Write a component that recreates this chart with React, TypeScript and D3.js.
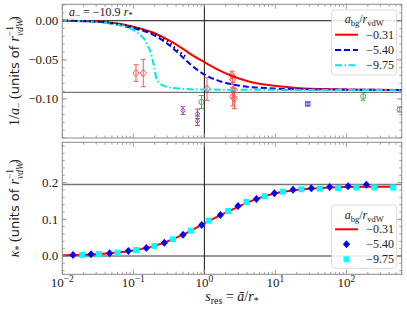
import React from "react";
import * as d3 from "d3";

// ---------- data ----------
// top panel: 1/a_- curves (x = s_res, y = 1/a_-)
const redTopX = [0.01, 0.03, 0.1, 0.2, 0.3, 0.5, 0.7, 1.0, 1.5, 2.5, 4, 7.5, 20, 60, 200, 600];
const redTopY = [0, -0.001, -0.0076, -0.016, -0.024, -0.036, -0.045, -0.053, -0.062, -0.071, -0.077, -0.082, -0.086, -0.0878, -0.0884, -0.0886];
const blueTopX = [0.01, 0.03, 0.1, 0.172, 0.295, 0.455, 0.7, 1.08, 1.5, 2.5, 4.4, 7.57, 12.8, 65, 600];
const blueTopY = [0, -0.0012, -0.0097, -0.016, -0.0288, -0.0436, -0.059, -0.0705, -0.076, -0.0815, -0.0848, -0.086, -0.0873, -0.088, -0.0886];
const cyanTopX = [0.01, 0.03, 0.059, 0.081, 0.099, 0.124, 0.155, 0.182, 0.196, 0.214, 0.265, 0.366, 0.87, 600];
const cyanTopY = [0, -0.0015, -0.005, -0.0076, -0.0118, -0.018, -0.0288, -0.0458, -0.0585, -0.0754, -0.083, -0.086, -0.088, -0.0888];
const blackTopX = [0.01, 0.03, 0.1, 0.17, 0.3, 0.45, 0.55];
const blackTopY = [0, -0.001, -0.008, -0.0145, -0.026, -0.040, -0.046];

// experimental / reference points with error bars
const redPtsX = [0.109, 0.138, 1.09, 2.45, 2.5, 2.55, 2.5, 2.65];
const redPtsY = [-0.0669, -0.0669, -0.0873, -0.0695, -0.0755, -0.0885, -0.097, -0.0995];
const redPtsE = [0.0106, 0.0175, 0.0145, 0.005, 0.006, 0.01, 0.012, 0.013];
const purplePtsX = [0.5, 0.8, 0.8];
const purplePtsY = [-0.115, -0.119, -0.128];
const purplePtsE = [0.005, 0.006, 0.006];
const greenPtsX = [0.91, 172, 563];
const greenPtsY = [-0.104, -0.0967, -0.1136];
const greenPtsE = [0.0083, 0.005, 0.003];
const bluePtsX = [28.5];
const bluePtsY = [-0.1064];
const bluePtsE = [0.002];

const asymTop = -0.0917;

// bottom panel: kappa_*
const redBotX = [0.01, 0.02, 0.05, 0.1, 0.2, 0.5, 1, 2, 5, 10, 20, 50, 100, 200, 500];
const redBotY = [0.002, 0.003, 0.008, 0.015, 0.0275, 0.058, 0.089, 0.118, 0.153, 0.171, 0.180, 0.186, 0.188, 0.189, 0.189];
const blueBotX = [0.01415, 0.0254, 0.0464, 0.0851, 0.1525, 0.2733, 0.501, 0.916, 1.68, 2.98, 5.40, 9.68, 17.7, 32.1, 58.2, 105.6, 191];
const blueBotY = [0.0027, 0.0046, 0.0073, 0.0136, 0.0218, 0.0363, 0.0582, 0.0845, 0.1118, 0.136, 0.1555, 0.1709, 0.1809, 0.1845, 0.1882, 0.19, 0.1945];
const cyanBotX = [0.0191, 0.0329, 0.0601, 0.110, 0.198, 0.362, 0.650, 1.15, 2.16, 3.90, 7.07, 12.8, 23.2, 42.1, 76.4, 138, 248, 455];
const cyanBotY = [0.0027, 0.0055, 0.009, 0.016, 0.0273, 0.0455, 0.069, 0.0963, 0.1227, 0.1473, 0.1628, 0.1755, 0.1818, 0.1836, 0.1855, 0.1866, 0.1866, 0.1866];
const asymBot = 0.195;

const legendLabels = ["\u22120.31", "\u22125.40", "\u22129.75"];
const topYTicks = [0, -0.05, -0.1];
const botYTicks = [0, 0.1, 0.2];
const xTickExps = [-2, -1, 0, 1, 2];

// ---------- layout ----------
const W = 407, H = 313;
const L = 62.3, R = 401.7;
const T1 = 4.3, B1 = 138;
const T2 = 142.3, B2 = 274.3;
const SERIF = "'Liberation Serif', 'DejaVu Serif', serif";
const SANS = "'DejaVu Sans', 'Liberation Sans', sans-serif";
const SPINE = "#8a8a8a";

const x = d3.scaleLog().domain([0.01, 600]).range([L, R]);
const yTop = d3.scaleLinear().domain([-0.15, 0.021]).range([B1, T1]);
const yBot = d3.scaleLinear().domain([-0.05, 0.31]).range([B2, T2]);

function zip(xs: number[], ys: number[]) {
  return xs.map((v, i) => [v, ys[i]] as [number, number]);
}

function Frame({ top, bottom, y, yMajor, yMinorStep }: any) {
  const majorX = xTickExps.map((e) => Math.pow(10, e));
  const minorX: number[] = [];
  for (let e = -2; e <= 2; e++) for (let k = 2; k <= 9; k++) {
    const v = k * Math.pow(10, e);
    if (v <= 600) minorX.push(v);
  }
  const [d0, d1] = y.domain();
  const minorY: number[] = [];
  for (let v = Math.ceil(d0 / yMinorStep) * yMinorStep; v <= d1 + 1e-9; v += yMinorStep) minorY.push(v);
  const ticks: any[] = [];
  majorX.forEach((v, i) => {
    const px = x(v);
    ticks.push(<line key={"xt" + i} x1={px} x2={px} y1={top} y2={top + 4.5} />);
    ticks.push(<line key={"xb" + i} x1={px} x2={px} y1={bottom} y2={bottom - 4.5} />);
  });
  minorX.forEach((v, i) => {
    const px = x(v);
    ticks.push(<line key={"mxt" + i} x1={px} x2={px} y1={top} y2={top + 2.5} />);
    ticks.push(<line key={"mxb" + i} x1={px} x2={px} y1={bottom} y2={bottom - 2.5} />);
  });
  yMajor.forEach((v: number, i: number) => {
    const py = y(v);
    ticks.push(<line key={"yl" + i} x1={L} x2={L + 4.5} y1={py} y2={py} />);
    ticks.push(<line key={"yr" + i} x1={R} x2={R - 4.5} y1={py} y2={py} />);
  });
  minorY.forEach((v, i) => {
    const py = y(v);
    ticks.push(<line key={"myl" + i} x1={L} x2={L + 2.5} y1={py} y2={py} />);
    ticks.push(<line key={"myr" + i} x1={R} x2={R - 2.5} y1={py} y2={py} />);
  });
  return (
    <g>
      <g stroke={SPINE} strokeWidth={0.8}>{ticks}</g>
      <rect x={L} y={top} width={R - L} height={bottom - top} fill="none" stroke={SPINE} strokeWidth={1} />
    </g>
  );
}

function ErrPts({ xs, ys, es, color, shape, size }: any) {
  return (
    <g stroke={color} fill="none" strokeWidth={1} opacity={0.75}>
      {xs.map((v: number, i: number) => {
        const px = x(v), py = yTop(ys[i]);
        const y1 = yTop(ys[i] + es[i]), y2 = yTop(ys[i] - es[i]);
        let m;
        if (shape === "diamond") m = <path d={`M${px},${py - size}L${px + size * 0.8},${py}L${px},${py + size}L${px - size * 0.8},${py}Z`} />;
        else if (shape === "circle") m = <circle cx={px} cy={py} r={size} />;
        else m = <rect x={px - size} y={py - size} width={2 * size} height={2 * size} fill={color} fillOpacity={0.4} />;
        return (
          <g key={i}>
            <line x1={px} x2={px} y1={y1} y2={y2} />
            <line x1={px - 2.5} x2={px + 2.5} y1={y1} y2={y1} />
            <line x1={px - 2.5} x2={px + 2.5} y1={y2} y2={y2} />
            {m}
          </g>
        );
      })}
    </g>
  );
}

function LegendTitle({ cx, cy }: any) {
  return (
    <text x={cx} y={cy} textAnchor="middle" fontFamily={SERIF} fontSize={12} fill="#222">
      <tspan fontStyle="italic">a</tspan>
      <tspan fontSize={8.5} dy={2.5}>bg</tspan>
      <tspan dy={-2.5}>/</tspan>
      <tspan fontStyle="italic">r</tspan>
      <tspan fontSize={8.5} dy={2.5}>vdW</tspan>
    </text>
  );
}

export default function App() {
  const lineTop = d3.line<[number, number]>().x((d) => x(d[0])).y((d) => yTop(d[1])).curve(d3.curveMonotoneX);
  const lineBot = d3.line<[number, number]>().x((d) => x(d[0])).y((d) => yBot(d[1])).curve(d3.curveMonotoneX);
  const x1 = x(1);

  const lgx = 331.7, lgw = 65;
  return (
    <svg width={W} height={H} style={{ position: "absolute", left: 0, top: 0, background: "#fff" }}>
      {/* ---------------- top panel ---------------- */}
      <defs>
        <clipPath id="c1"><rect x={L} y={T1} width={R - L} height={B1 - T1} /></clipPath>
        <clipPath id="c2"><rect x={L} y={T2} width={R - L} height={B2 - T2} /></clipPath>
      </defs>
      <g clipPath="url(#c1)">
        <line x1={L} x2={R} y1={yTop(0)} y2={yTop(0)} stroke="#111" strokeWidth={1} />
        <line x1={L} x2={R} y1={yTop(asymTop)} y2={yTop(asymTop)} stroke="#777" strokeWidth={1.3} />
        <line x1={x1} x2={x1} y1={T1} y2={B1} stroke="#111" strokeWidth={1} />
        <ErrPts xs={redPtsX} ys={redPtsY} es={redPtsE} color="#ff2020" shape="diamond" size={3.8} />
        <ErrPts xs={purplePtsX} ys={purplePtsY} es={purplePtsE} color="#7b1fa2" shape="diamond" size={2.8} />
        <ErrPts xs={greenPtsX} ys={greenPtsY} es={greenPtsE} color="#2e8b2e" shape="circle" size={2.6} />
        <ErrPts xs={bluePtsX} ys={bluePtsY} es={bluePtsE} color="#3030e0" shape="square" size={2.3} />
        <path d={lineTop(zip(redTopX, redTopY)) || ""} fill="none" stroke="#ff0000" strokeWidth={2} />
        <path d={lineTop(zip(blueTopX, blueTopY)) || ""} fill="none" stroke="#0000ff" strokeWidth={2} strokeDasharray="6,3" />
        <path d={lineTop(zip(cyanTopX, cyanTopY)) || ""} fill="none" stroke="#00e5ee" strokeWidth={2} strokeDasharray="7,2.5,1.5,2.5" />
        <path d={lineTop(zip(blackTopX, blackTopY)) || ""} fill="none" stroke="#000" strokeWidth={2} strokeDasharray="1.5,3" />
      </g>
      <Frame top={T1} bottom={B1} y={yTop} yMajor={topYTicks} yMinorStep={0.01} />
      {topYTicks.map((v, i) => (
        <text key={i} x={L - 4} y={yTop(v) + 4.5} textAnchor="end" fontFamily={SERIF} fontSize={13} fill="#222">
          {v === 0 ? "0.00" : "\u2212" + Math.abs(v).toFixed(2)}
        </text>
      ))}
      <text x={69} y={15.5} fontFamily={SERIF} fontSize={12} fill="#222">
        <tspan fontStyle="italic">a</tspan>
        <tspan fontSize={9} dy={2.5}>{"\u2212"}</tspan>
        <tspan dy={-2.5}>{" = \u221210.9 "}</tspan>
        <tspan fontStyle="italic">r</tspan>
        <tspan fontSize={9} dy={2.5}>*</tspan>
      </text>
      {/* top legend */}
      <rect x={lgx} y={10} width={lgw} height={65} rx={3} fill="#fff" fillOpacity={0.85} stroke="#d0d0d0" strokeWidth={0.8} />
      <LegendTitle cx={lgx + lgw / 2} cy={23} />
      <line x1={335} x2={358} y1={34.7} y2={34.7} stroke="#ff0000" strokeWidth={2} />
      <line x1={335} x2={358} y1={50} y2={50} stroke="#0000ff" strokeWidth={2} strokeDasharray="6,3" />
      <line x1={335} x2={358} y1={65.3} y2={65.3} stroke="#00e5ee" strokeWidth={2} strokeDasharray="7,2.5,1.5,2.5" />
      {legendLabels.map((t, i) => (
        <text key={i} x={394} y={[34.7, 50, 65.3][i] + 4} textAnchor="end" fontFamily={SERIF} fontSize={12} fill="#222">{t}</text>
      ))}
      <text transform={`translate(19,${(T1 + B1) / 2}) rotate(-90)`} textAnchor="middle" fontFamily={SERIF} fontSize={14} fill="#222">
        <tspan>1/</tspan>
        <tspan fontStyle="italic">a</tspan>
        <tspan fontSize={10} dy={3}>{"\u2212"}</tspan>
        <tspan dy={-3}>{" ("}</tspan>
        <tspan fontFamily={SANS} fontSize={13}>{"units of "}</tspan>
        <tspan fontStyle="italic">r</tspan>
        <tspan fontSize={9.5} fontStyle="italic" dy={4}>vdW</tspan>
        <tspan fontSize={9.5} dx={-17} dy={-10}>{"\u22121"}</tspan>
        <tspan dx={5} dy={6}>)</tspan>
      </text>

      {/* ---------------- bottom panel ---------------- */}
      <g clipPath="url(#c2)">
        <line x1={L} x2={R} y1={yBot(0)} y2={yBot(0)} stroke="#777" strokeWidth={1.5} />
        <line x1={L} x2={R} y1={yBot(asymBot)} y2={yBot(asymBot)} stroke="#777" strokeWidth={1.5} />
        <line x1={x1} x2={x1} y1={T2} y2={B2} stroke="#111" strokeWidth={1} />
        <path d={lineBot(zip(redBotX, redBotY)) || ""} fill="none" stroke="#ff0000" strokeWidth={2} />
        {blueBotX.map((v, i) => {
          const px = x(v), py = yBot(blueBotY[i]);
          return <path key={"b" + i} d={`M${px},${py - 4}L${px + 3.6},${py}L${px},${py + 4}L${px - 3.6},${py}Z`} fill="#0000ff" />;
        })}
        {cyanBotX.map((v, i) => {
          const px = x(v), py = yBot(cyanBotY[i]);
          return <rect key={"c" + i} x={px - 3} y={py - 3} width={6} height={6} fill="#00ffff" />;
        })}
      </g>
      <Frame top={T2} bottom={B2} y={yBot} yMajor={botYTicks} yMinorStep={0.02} />
      {botYTicks.map((v, i) => (
        <text key={i} x={L - 4} y={yBot(v) + 4.5} textAnchor="end" fontFamily={SERIF} fontSize={13} fill="#222">
          {v.toFixed(1)}
        </text>
      ))}
      {xTickExps.map((e, i) => (
        <text key={i} x={x(Math.pow(10, e))} y={287} textAnchor="middle" fontFamily={SERIF} fontSize={13} fill="#222">
          <tspan>10</tspan>
          <tspan fontSize={9.5} dy={-5}>{e < 0 ? "\u2212" + Math.abs(e) : String(e)}</tspan>
        </text>
      ))}
      <text x={(L + R) / 2} y={301} textAnchor="middle" fontFamily={SERIF} fontSize={14} fill="#222">
        <tspan fontStyle="italic">s</tspan>
        <tspan fontSize={10} dy={3}>res</tspan>
        <tspan dy={-3}>{" = "}</tspan>
        <tspan fontStyle="italic">{"\u0101"}</tspan>
        <tspan>/</tspan>
        <tspan fontStyle="italic">r</tspan>
        <tspan fontSize={10} dy={3}>*</tspan>
      </text>
      <text transform={`translate(19,${(T2 + B2) / 2}) rotate(-90)`} textAnchor="middle" fontFamily={SERIF} fontSize={14} fill="#222">
        <tspan fontStyle="italic">{"\u03ba"}</tspan>
        <tspan fontSize={10} dy={3}>*</tspan>
        <tspan dy={-3}>{" ("}</tspan>
        <tspan fontFamily={SANS} fontSize={13}>{"units of "}</tspan>
        <tspan fontStyle="italic">r</tspan>
        <tspan fontSize={9.5} fontStyle="italic" dy={4}>vdW</tspan>
        <tspan fontSize={9.5} dx={-17} dy={-10}>{"\u22121"}</tspan>
        <tspan dx={5} dy={6}>)</tspan>
      </text>
      {/* bottom legend */}
      <rect x={lgx} y={205} width={lgw} height={63.3} rx={3} fill="#fff" fillOpacity={0.85} stroke="#d0d0d0" strokeWidth={0.8} />
      <LegendTitle cx={lgx + lgw / 2} cy={219} />
      <line x1={335} x2={358} y1={229.3} y2={229.3} stroke="#ff0000" strokeWidth={2} />
      <path d={`M346.5,${244.3 - 4}L${346.5 + 3.6},244.3L346.5,${244.3 + 4}L${346.5 - 3.6},244.3Z`} fill="#0000ff" />
      <rect x={343.5} y={256.3} width={6} height={6} fill="#00ffff" />
      {legendLabels.map((t, i) => (
        <text key={i} x={394} y={[229.3, 244.3, 259.3][i] + 4} textAnchor="end" fontFamily={SERIF} fontSize={12} fill="#222">{t}</text>
      ))}
    </svg>
  );
}
